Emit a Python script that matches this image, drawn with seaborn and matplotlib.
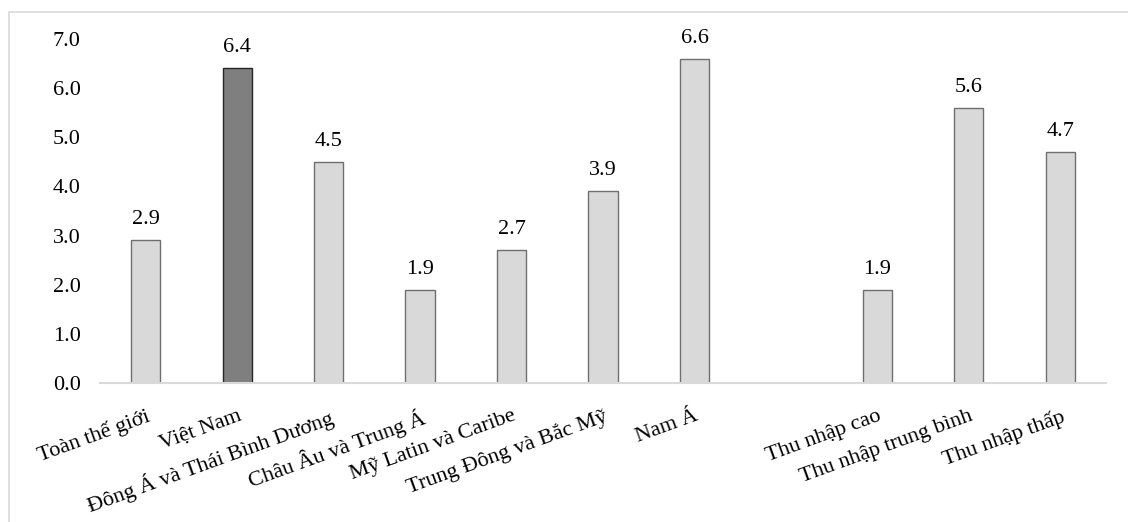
import matplotlib
matplotlib.use("Agg")
import matplotlib.pyplot as plt
import matplotlib.patches as mpatches
import seaborn as sns
import pandas as pd

categories = ["Toàn thế giới", "Việt Nam", "Đông Á và Thái Bình Dương",
              "Châu Âu và Trung Á", "Mỹ Latin và Caribe", "Trung Đông và Bắc Mỹ",
              "Nam Á", "Thu nhập cao", "Thu nhập trung bình", "Thu nhập thấp"]
values = [2.9, 6.4, 4.5, 1.9, 2.7, 3.9, 6.6, 1.9, 5.6, 4.7]
highlight = "Việt Nam"

# empty slot between regions and income groups
order = categories[:7] + [" "] + categories[7:]

df = pd.DataFrame({"cat": categories, "val": values})

sns.set_style("white")
plt.rcParams["font.family"] = ["Liberation Serif", "DejaVu Serif"]

fig = plt.figure(figsize=(11.28, 5.22), dpi=100)
ax = fig.add_axes([0.0887, 0.2663, 0.8918, 0.659])

pal = {c: ("#7F7F7F" if c == highlight else "#D9D9D9") for c in categories}
sns.barplot(data=df, x="cat", y="val", hue="cat", order=order, hue_order=categories,
            palette=pal, width=0.32, legend=False, ax=ax)

for c, cont in zip(categories, ax.containers):
    for p in cont:
        p.set_edgecolor("#262626" if c == highlight else "#6F6F6F")
        p.set_linewidth(1.0)
    ax.bar_label(cont, fmt="%.1f", padding=8, fontsize=16, color="#000000", clip_on=False)

ax.set_xlim(-0.5, 10.5)
ax.set_ylim(0, 7)
ax.set_yticks([0, 1, 2, 3, 4, 5, 6, 7])
ax.set_yticklabels([f"{v:.1f}" for v in range(8)])
ax.set_xlabel("")
ax.set_ylabel("")
ax.set_xticks(range(len(order)))
ax.set_xticklabels(order, rotation=20, ha="right", rotation_mode="anchor")
ax.tick_params(axis="both", length=0, labelsize=16, colors="#000000")
ax.tick_params(axis="y", pad=14)
ax.tick_params(axis="x", pad=17)

for s in ["top", "right", "left"]:
    ax.spines[s].set_visible(False)
ax.spines["bottom"].set_color("#D9D9D9")
ax.spines["bottom"].set_linewidth(1.5)

# outer chart border (only top/left visible in the picture)
fig.patches.append(mpatches.Rectangle((9 / 1128, -1), 2, 2 - 12 / 522,
                                      transform=fig.transFigure, fill=False,
                                      edgecolor="#D9D9D9", linewidth=1.2))

fig.savefig("out.png", dpi=100, facecolor="white")
